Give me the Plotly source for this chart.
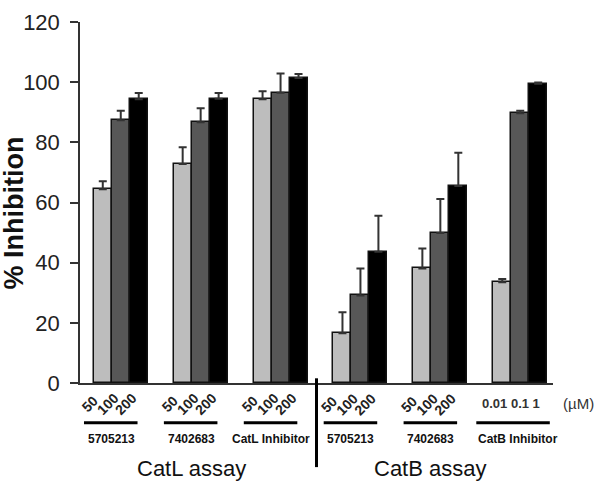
import plotly.graph_objects as go

# ---- data ----
groups = ["5705213", "7402683", "CatL Inhibitor", "5705213", "7402683", "CatB Inhibitor"]
assays = ["CatL assay", "CatB assay"]
conc_labels = ["50", "100", "200"]
catb_inh_label = "0.01 0.1 1"
low = [64.4, 72.8, 94.3, 16.5, 38.1, 33.5]
mid = [87.3, 86.7, 96.5, 29.1, 49.9, 89.7]
high = [94.3, 94.5, 101.4, 43.6, 65.5, 99.5]
low_err = [2.7, 5.6, 2.7, 7.0, 6.6, 1.1]
mid_err = [3.2, 4.6, 6.4, 9.0, 11.3, 0.8]
high_err = [2.1, 1.9, 1.3, 12.0, 11.0, 0.4]
y_ticks = [0, 20, 40, 60, 80, 100, 120]

colors = ["#bdbdbd", "#575757", "#000000"]
bw = 0.225
offsets = [-bw, 0, bw]
series = [(low, low_err), (mid, mid_err), (high, high_err)]

fig = go.Figure()
xg = list(range(len(groups)))
for k, (vals, errs) in enumerate(series):
    fig.add_trace(go.Bar(
        x=[g + offsets[k] for g in xg], y=vals, width=bw,
        marker=dict(color=colors[k], line=dict(color="#111111", width=1.5)),
        error_y=dict(type="data", array=errs, arrayminus=[0] * len(errs), symmetric=False,
                     color="#333333", thickness=2, width=4),
        showlegend=False,
    ))

annotations = []
shapes = []
lab_font = dict(family="Liberation Sans, Arial", size=12, color="#111111")
for g in xg:
    if groups[g] != "CatB Inhibitor":
        for k in range(3):
            annotations.append(dict(
                x=g + offsets[k], y=0, xref="x", yref="y", text="<b>%s</b>" % conc_labels[k],
                textangle=-45, showarrow=False, xanchor="center", yanchor="middle",
                xshift=-13, yshift=-21, font=dict(family="Liberation Sans, Arial", size=14, color="#222")))
        x0, x1, lx = g - 0.46, g + 0.21, g - 0.12
    else:
        annotations.append(dict(
            x=g - 0.12, y=0, xref="x", yref="y", text="<b>%s</b>" % catb_inh_label,
            showarrow=False, xanchor="center", yanchor="middle", yshift=-20,
            font=dict(family="Liberation Sans, Arial", size=13, color="#333")))
        x0, x1, lx = g - 0.55, g + 0.37, g - 0.03
    shapes.append(dict(type="line", xref="x", yref="paper", x0=x0, x1=x1,
                       y0=-0.11, y1=-0.11, line=dict(color="#000", width=3)))
    annotations.append(dict(x=lx, y=0, xref="x", yref="y", text="<b>%s</b>" % groups[g],
                            showarrow=False, xanchor="center", yanchor="middle", yshift=-56,
                            font=lab_font))

# assay labels
for i, a in enumerate(assays):
    annotations.append(dict(x=1 - 0.12 + i * 3 - 0.0, y=0, xref="x", yref="y", text=a,
                            showarrow=False, xanchor="center", yanchor="middle", yshift=-85,
                            font=dict(family="Liberation Sans, Arial", size=22, color="#111")))
# unit
annotations.append(dict(x=1, y=0, xref="paper", yref="y", text="(µM)", showarrow=False,
                        xanchor="center", yanchor="middle", xshift=25, yshift=-20,
                        font=dict(family="Liberation Sans, Arial", size=15, color="#333")))
# y title
annotations.append(dict(x=0, y=0.5, xref="paper", yref="paper", text="<b>% Inhibition</b>",
                        textangle=-90, showarrow=False, xanchor="center", yanchor="middle",
                        xshift=-67, yshift=-11,
                        font=dict(family="Liberation Sans, Arial", size=27, color="#111")))
# divider
shapes.append(dict(type="line", xref="x", yref="paper", x0=2.45, x1=2.45, y0=0.013, y1=-0.233,
                   line=dict(color="#000", width=3)))

fig.update_layout(
    width=600, height=484,
    margin=dict(l=80, r=47, t=10, b=101),
    paper_bgcolor="white", plot_bgcolor="white",
    barmode="overlay", bargap=0,
    xaxis=dict(range=[-0.51, 5.41], showticklabels=False, ticks="", showgrid=False, zeroline=False,
               showline=True, linecolor="#333", linewidth=1.5, fixedrange=True),
    yaxis=dict(range=[0, 120], tickvals=y_ticks, ticks="outside", ticklen=8, tickwidth=1.5,
               tickcolor="#333", showline=True, linecolor="#333", linewidth=1.5, showgrid=False,
               zeroline=False, ticklabelstandoff=6, ticklabeloverflow="allow",
               tickfont=dict(family="Liberation Sans, Arial", size=22, color="#222")),
    annotations=annotations, shapes=shapes,
)
fig.write_html("out.html", config={"displayModeBar": False},
               post_script="document.body.style.margin='0';document.body.style.overflow='hidden';")
